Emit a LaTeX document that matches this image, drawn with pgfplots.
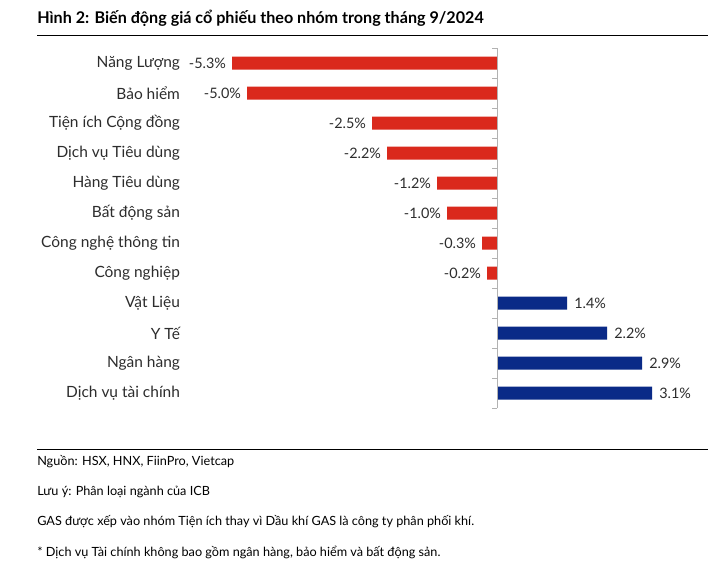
\documentclass[border=0pt]{standalone}
\usepackage{fontspec}
\setmainfont{Lato}
\usepackage{pgfplots}
\pgfplotsset{compat=1.18}
\usepackage{pgfplotstable}
\definecolor{barred}{RGB}{218,41,28}
\definecolor{barblue}{RGB}{10,42,135}
\definecolor{txt}{RGB}{45,45,45}
\pgfplotstableread{
y v
0 -5.3
1 -5.0
2 -2.5
3 -2.2
4 -1.2
5 -1.0
6 -0.3
7 -0.2
}\negdata
\pgfplotstableread{
y v
8 1.4
9 2.2
10 2.9
11 3.1
}\posdata
\begin{document}
\begin{tikzpicture}
\begin{scope}[x=0.75pt,y=-0.75pt]
\useasboundingbox (0,0) rectangle (715,583);
\fill[white] (0,0) rectangle (715,583);
\node[anchor=west, inner sep=0pt, font=\bfseries\fontsize{12.1}{14}\selectfont] at (37,18) {Hình 2: Biến động giá cổ phiếu theo nhóm trong tháng 9/2024};
\draw[black, line width=0.75pt] (37,35) -- (708,35);
\draw[black, line width=0.75pt] (37,449) -- (708,449);
\begin{scope}[every node/.style={anchor=west, inner sep=0pt, font=\fontsize{9.5}{11}\selectfont, text=black}]
\node at (37,462) {Nguồn: HSX, HNX, FiinPro, Vietcap};
\node at (37,492) {Lưu ý: Phân loại ngành của ICB};
\node at (37,522) {GAS được xếp vào nhóm Tiện ích thay vì Dầu khí GAS là công ty phân phối khí.};
\node at (37,552) {* Dịch vụ Tài chính không bao gồm ngân hàng, bảo hiểm và bất động sản.};
\end{scope}
\end{scope}
\begin{axis}[
  at={(372.75pt,-47.25pt)}, anchor=origin,
  x=37.5pt, y=22.5pt, y dir=reverse,
  xmin=-6.22, xmax=4.2, ymin=-0.5, ymax=11.5,
  axis line style={draw=none},
  xtick=\empty,
  ytick={0,...,11},
  yticklabels={Năng Lượng,Bảo hiểm,Tiện ích Cộng đồng,Dịch vụ Tiêu dùng,Hàng Tiêu dùng,Bất động sản,Công nghệ thông tin,Công nghiệp,Vật Liệu,Y Tế,Ngân hàng,Dịch vụ tài chính},
  major tick length=0pt,
  yticklabel style={font=\fontsize{11.6}{13}\selectfont, text=txt, xshift=-1pt},
  xbar, bar width=9.75pt, bar shift=0pt,
  point meta=explicit symbolic,
  nodes near coords={\pgfplotspointmeta\%},
  nodes near coords style={font=\fontsize{10.8}{12}\selectfont, text=txt},
  clip=false,
]
\addplot[fill=barred, draw=none, every node near coord/.append style={anchor=east, xshift=-1pt}] table[x=v, y=y, meta=v]{\negdata};
\addplot[fill=barblue, draw=none, every node near coord/.append style={anchor=west, xshift=2pt}] table[x=v, y=y, meta=v]{\posdata};
\draw[gray!60, line width=0.75pt] (axis cs:0,-0.5) -- (axis cs:0,11.5);
\pgfplotsinvokeforeach{-0.5,0.5,1.5,2.5,3.5,4.5,5.5,6.5,7.5,8.5,9.5,10.5,11.5}{
  \draw[gray!60, line width=0.75pt] (axis cs:0,#1) -- +(-3.75pt,0pt);
}
\end{axis}
\end{tikzpicture}
\end{document}
